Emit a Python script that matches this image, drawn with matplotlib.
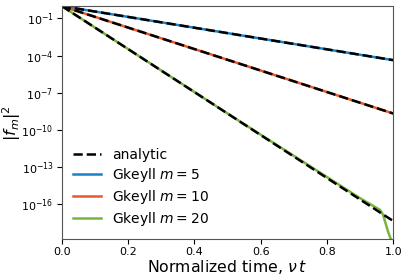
import matplotlib
matplotlib.use("Agg")
import matplotlib.pyplot as plt
import numpy as np

# analytic decay, end points
t_an = [0.0, 1.0]
an_m5 = [1.0, 4.3e-5]
an_m10 = [1.0, 2.1e-9]
an_m20 = [1.0, 4.3e-18]

# Gkeyll results
t_gk = [0.0, 1.0]
gk_m5 = [1.0, 4.3e-5]
gk_m10 = [1.0, 2.1e-9]
t_gk20 = [0.0, 0.5, 0.9, 0.961, 0.970, 0.976, 0.985, 0.994]
gk_m20 = [1.0, 2.1e-9, 3.0e-16, 3.3e-17, 1.3e-17, 3.5e-18, 5.5e-19, 1.2e-19]

blue = "#1a80c8"
orange = "#e8582a"
green = "#77b53c"

fig, ax = plt.subplots(figsize=(4.07, 2.78), dpi=100)
ax.semilogy(t_gk, gk_m5, color=blue, lw=1.8, label="Gkeyll $m=5$")
ax.semilogy(t_gk, gk_m10, color=orange, lw=1.8, label="Gkeyll $m=10$")
ax.semilogy(t_gk20, gk_m20, color=green, lw=1.8, label="Gkeyll $m=20$")
ax.semilogy(t_an, an_m5, "k--", lw=1.8, label="analytic")
ax.semilogy(t_an, an_m10, "k--", lw=1.8)
ax.semilogy(t_an, an_m20, "k--", lw=1.8)

ax.set_xlim(0, 1)
ax.set_ylim(10**-18.83, 1.0)
ax.set_yticks([1e-1, 1e-4, 1e-7, 1e-10, 1e-13, 1e-16])
ax.minorticks_off()
ax.tick_params(labelsize=8, pad=2.5)
ax.set_xlabel(r"Normalized time, $\nu\, t$", fontsize=11.3, labelpad=0.5)
ax.set_ylabel(r"$|f_m|^2$", fontsize=11.5)
ax.yaxis.set_label_coords(-0.118, 0.5)
for s in ax.spines.values():
    s.set_color("#555555")

h, l = ax.get_legend_handles_labels()
order = [3, 0, 1, 2]
ax.legend([h[i] for i in order], [l[i] for i in order], frameon=False,
          loc="lower left", fontsize=10, handlelength=2.0,
          labelspacing=0.28, borderaxespad=0.4)

fig.subplots_adjust(left=0.152, right=0.966, top=0.978, bottom=0.14)
fig.savefig("out.png", dpi=100)
